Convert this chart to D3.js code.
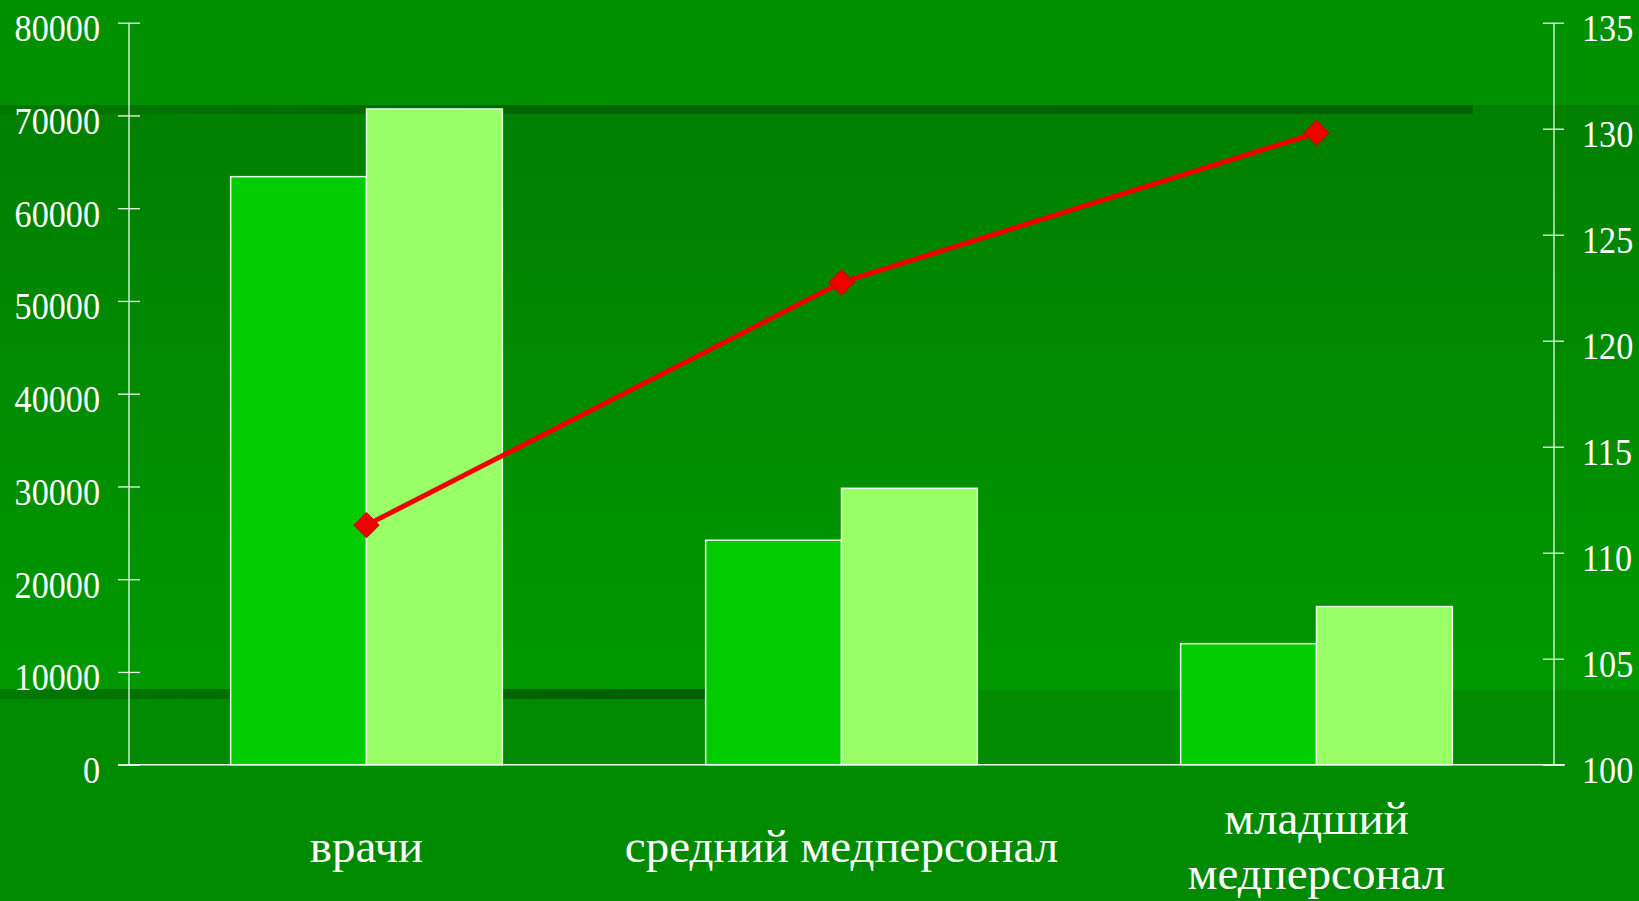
<!DOCTYPE html>
<html>
<head>
<meta charset="utf-8">
<script src="https://cdn.jsdelivr.net/npm/d3@7/dist/d3.min.js"></script>
<style>
  html, body { margin: 0; padding: 0; background: #008c00; overflow: hidden; }
  svg { display: block; }
</style>
</head>
<body>
<svg id="chart" width="1639" height="901"></svg>
<script>
// ---- data ----
const categories = ["врачи", "средний медперсонал", "младший медперсонал"];
const categoryLabelLines = [["врачи"], ["средний медперсонал"], ["младший", "медперсонал"]];
const seriesNames = ["s1", "s2"];
const series1 = [63400, 24200, 13050];
const series2 = [70700, 29800, 17050];
const ratio = [111.3, 122.75, 129.8];
const leftTicks = [0, 10000, 20000, 30000, 40000, 50000, 60000, 70000, 80000];
const rightTicks = [100, 105, 110, 115, 120, 125, 130, 135];

// ---- layout ----
const W = 1639, H = 901;
const axisL = 129, axisR = 1554;
const yTop = 22.7, yBase = 764.7;
const svg = d3.select("#chart");

// background bands
const defs = svg.append("defs");
const g1 = defs.append("linearGradient").attr("id", "midGrad").attr("x1", 0).attr("x2", 0).attr("y1", 0).attr("y2", 1);
g1.append("stop").attr("offset", "0%").attr("stop-color", "#007f00");
g1.append("stop").attr("offset", "100%").attr("stop-color", "#009800");
const g2 = defs.append("linearGradient").attr("id", "bandGrad").attr("x1", 0).attr("x2", 1).attr("y1", 0).attr("y2", 0);
g2.append("stop").attr("offset", "0%").attr("stop-color", "#007800");
g2.append("stop").attr("offset", "35%").attr("stop-color", "#006600");
g2.append("stop").attr("offset", "100%").attr("stop-color", "#006200");
const g3 = defs.append("linearGradient").attr("id", "bandGrad2").attr("x1", 0).attr("x2", 1).attr("y1", 0).attr("y2", 0);
g3.append("stop").attr("offset", "0%").attr("stop-color", "#007800");
g3.append("stop").attr("offset", "70%").attr("stop-color", "#006000");
g3.append("stop").attr("offset", "100%").attr("stop-color", "#006000");

svg.append("rect").attr("x", 0).attr("y", 0).attr("width", W).attr("height", H).attr("fill", "#008a00");
svg.append("rect").attr("x", 0).attr("y", 0).attr("width", W).attr("height", 105).attr("fill", "#009000");
svg.append("rect").attr("x", 0).attr("y", 105).attr("width", W).attr("height", 585).attr("fill", "url(#midGrad)");
svg.append("rect").attr("x", 0).attr("y", 105).attr("width", 1473).attr("height", 9).attr("fill", "url(#bandGrad)");
svg.append("rect").attr("x", 0).attr("y", 689).attr("width", 900).attr("height", 10).attr("fill", "url(#bandGrad2)");

// ---- scales ----
const x = d3.scaleBand().domain(categories).range([axisL, axisR]).padding(0);
const groupW = x.bandwidth() * 0.572;
const xi = d3.scaleBand().domain(seriesNames).range([0, groupW]).padding(0);
const yL = d3.scaleLinear().domain([0, 80000]).range([yBase, yTop]);
const yR = d3.scaleLinear().domain([100, 135]).range([yBase, yTop]);

// ---- bars ----
const barData = [];
categories.forEach((c, i) => {
  barData.push({ cat: c, s: "s1", v: series1[i] });
  barData.push({ cat: c, s: "s2", v: series2[i] });
});
const colors = { s1: "#00cc00", s2: "#99ff66" };
svg.append("g").selectAll("rect").data(barData).join("rect")
  .attr("x", d => x(d.cat) + (x.bandwidth() - groupW) / 2 + xi(d.s))
  .attr("y", d => yL(d.v))
  .attr("width", xi.bandwidth())
  .attr("height", d => yL(0) - yL(d.v))
  .attr("fill", d => colors[d.s])
  .attr("stroke", "#e6ffe0")
  .attr("stroke-width", 1.5);

// ---- axes ----
const fontFam = "'Liberation Serif', 'Times New Roman', serif";
const axLeft = svg.append("g").attr("transform", `translate(${axisL},0)`)
  .call(d3.axisLeft(yL).tickValues(leftTicks).tickSize(11).tickPadding(18).tickFormat(d3.format("d")));
const axRight = svg.append("g").attr("transform", `translate(${axisR},0)`)
  .call(d3.axisRight(yR).tickValues(rightTicks).tickSize(10).tickPadding(18).tickFormat(d3.format("d")));

[axLeft, axRight].forEach((ax, k) => {
  ax.select(".domain").attr("stroke", "#e8ffe8").attr("stroke-width", 1.3)
    .attr("d", `M0,${yTop}V${yBase}`);
  ax.selectAll(".tick line").attr("stroke", "#e8ffe8").attr("stroke-width", 1.3)
    .attr("x1", k === 0 ? 11 : -11);
  ax.selectAll(".tick text")
    .attr("fill", "#ffffff")
    .attr("font-family", fontFam)
    .attr("font-size", 38)
    .attr("dy", "0.47em")
    .each(function() {
      const t = d3.select(this);
      const xx = +t.attr("x");
      t.attr("x", 0).attr("transform", `translate(${xx},0) scale(0.9,1)`);
    });
});
// baseline
svg.append("line").attr("x1", 118).attr("x2", 1565).attr("y1", yBase).attr("y2", yBase)
  .attr("stroke", "#e8ffe8").attr("stroke-width", 1.5);

// ---- category labels ----
const catG = svg.append("g").attr("font-family", fontFam).attr("font-size", 47).attr("fill", "#ffffff").attr("text-anchor", "middle");
categories.forEach((c, i) => {
  const lines = categoryLabelLines[i];
  const cx = x(c) + x.bandwidth() / 2;
  const t = catG.append("text").attr("x", cx);
  if (lines.length === 1) {
    t.append("tspan").attr("x", cx).attr("y", 862).text(lines[0]);
  } else {
    lines.forEach((ln, j) => t.append("tspan").attr("x", cx).attr("y", 834 + j * 55).text(ln));
  }
});

// ---- line series ----
const linePts = categories.map((c, i) => [x(c) + x.bandwidth() / 2, yR(ratio[i])]);
svg.append("path").attr("d", d3.line()(linePts))
  .attr("fill", "none").attr("stroke", "#f00000").attr("stroke-width", 5).attr("stroke-linejoin", "round");
svg.append("g").selectAll("path").data(linePts).join("path")
  .attr("d", d3.symbol(d3.symbolSquare, 310))
  .attr("transform", d => `translate(${d[0]},${d[1]}) rotate(45)`)
  .attr("fill", "#f00000")
  .attr("stroke", "#d00000").attr("stroke-width", 1);
</script>
</body>
</html>
